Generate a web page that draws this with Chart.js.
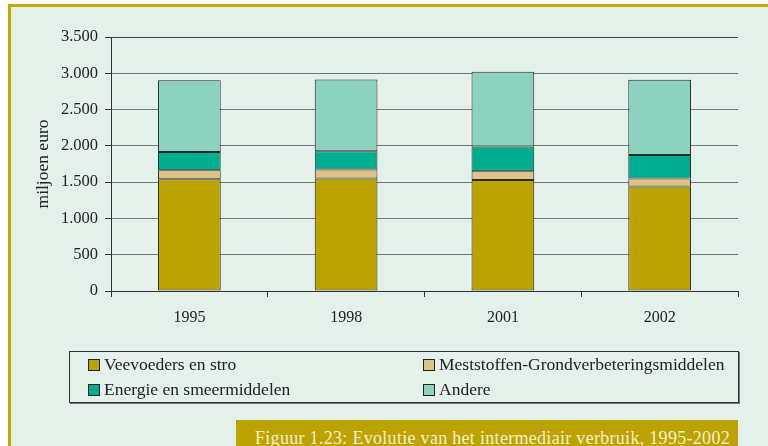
<!DOCTYPE html>
<html>
<head>
<meta charset="utf-8">
<script src="https://cdn.jsdelivr.net/npm/chart.js@4"></script>
<style>
  html, body { margin: 0; padding: 0; background: #ffffff; }
  #page { position: relative; width: 768px; height: 446px; overflow: hidden; }
  #frame {
    position: absolute; left: 8px; top: 4px; width: 800px; height: 480px;
    background: #e3f1ea; border-top: 3px solid #c8a900; border-left: 3px solid #c8a900;
  }
  #myChart { position: absolute; left: 0; top: 0; }
  #legend {
    position: absolute; left: 69px; top: 351px; width: 668px; height: 50px;
    border: 1px solid #333; box-shadow: 1px 1px 0 #777;
    font-family: "Liberation Serif", "Times New Roman", serif; font-size: 17.5px; color: #222;
  }
  .item { position: absolute; line-height: 17px; white-space: nowrap; }
  .box { position: absolute; width: 10px; height: 10px; border: 1px solid #222; }
  #caption {
    position: absolute; left: 236px; top: 420px; width: 502px; height: 30px;
    background: #bda300; color: #f4efd2;
    font-family: "Liberation Serif", "Times New Roman", serif; font-size: 18px; letter-spacing: 0.3px;
    line-height: 17px; box-sizing: border-box; padding: 10px 0 0 19px; white-space: nowrap;
  }
</style>
</head>
<body>
<div id="page">
  <div id="frame"></div>
  <canvas id="myChart" width="768" height="446"></canvas>
  <div id="legend"></div>
  <div id="caption">Figuur 1.23: Evolutie van het intermediair verbruik, 1995-2002</div>
</div>
<script>
// Data (miljoen euro)
const years = ['1995', '1998', '2001', '2002'];
const veevoeders = [1540, 1550, 1530, 1440];
const meststoffen = [125, 125, 120, 110];
const energie = [250, 250, 340, 325];
const andere = [990, 990, 1030, 1035];
const yTicks = [0, 500, 1000, 1500, 2000, 2500, 3000, 3500];

const serif = '"Liberation Serif", "Times New Roman", serif';

document.addEventListener("DOMContentLoaded", function () {
  const ctx = document.getElementById('myChart').getContext('2d');

  const datasets = [
    { label: 'Veevoeders en stro', data: veevoeders, backgroundColor: '#bba300' },
    { label: 'Meststoffen-Grondverbeteringsmiddelen', data: meststoffen, backgroundColor: '#dfc386' },
    { label: 'Energie en smeermiddelen', data: energie, backgroundColor: '#00ad8e' },
    { label: 'Andere', data: andere, backgroundColor: '#8dd1bf' }
  ];
  datasets.forEach(function (ds) {
    ds.borderColor = '#2a2a2a';
    ds.borderWidth = 1;
    ds.borderSkipped = false;
    ds.categoryPercentage = 1;
    ds.barPercentage = 0.4;
  });

  const myChart = new Chart(ctx, {
    type: 'bar',
    data: { labels: years, datasets: datasets },
    options: {
      responsive: false,
      animation: false,
      devicePixelRatio: 1,
      layout: { padding: { top: 37, right: 30, left: 0, bottom: 115 } },
      plugins: { legend: { display: false }, tooltip: { enabled: false } },
      scales: {
        x: {
          stacked: true,
          afterFit: function (scale) { scale.height = 40; },
          border: { color: '#333' },
          grid: {
            offset: true,
            tickLength: 6,
            tickColor: '#333',
            color: function (c) { return c.index === years.length ? '#555' : 'rgba(0,0,0,0)'; }
          },
          ticks: { color: '#222', padding: 11, font: { family: serif, size: 16 } }
        },
        y: {
          stacked: true,
          min: 0,
          max: 3500,
          afterFit: function (scale) { scale.width = 111; },
          afterBuildTicks: function (scale) {
            scale.ticks = yTicks.map(function (v) { return { value: v }; });
          },
          border: { color: '#333' },
          grid: {
            tickLength: 6,
            tickColor: '#333',
            color: function (c) { return c.tick && c.tick.value === 3500 ? '#444' : '#777'; }
          },
          ticks: {
            color: '#222',
            padding: 7,
            font: { family: serif, size: 16.5 },
            callback: function (v) { return String(v).replace(/\B(?=(\d{3})+(?!\d))/g, '.'); }
          },
          title: {
            display: true,
            text: 'miljoen euro',
            color: '#222',
            padding: { top: 33, bottom: 0 },
            font: { family: serif, size: 17.5 }
          }
        }
      }
    }
  });

  // Legend built from the chart datasets, two columns
  const legend = document.getElementById('legend');
  const colX = [18, 353];
  const rowY = [7, 32];
  myChart.data.datasets.forEach(function (ds, i) {
    const col = i % 2, row = Math.floor(i / 2);
    const box = document.createElement('div');
    box.className = 'box';
    box.style.left = colX[col] + 'px';
    box.style.top = rowY[row] + 'px';
    box.style.background = ds.backgroundColor;
    const item = document.createElement('div');
    item.className = 'item';
    item.style.left = (colX[col] + 16) + 'px';
    item.style.top = (rowY[row] - 3) + 'px';
    item.textContent = ds.label;
    legend.appendChild(box);
    legend.appendChild(item);
  });
});
</script>
</body>
</html>
